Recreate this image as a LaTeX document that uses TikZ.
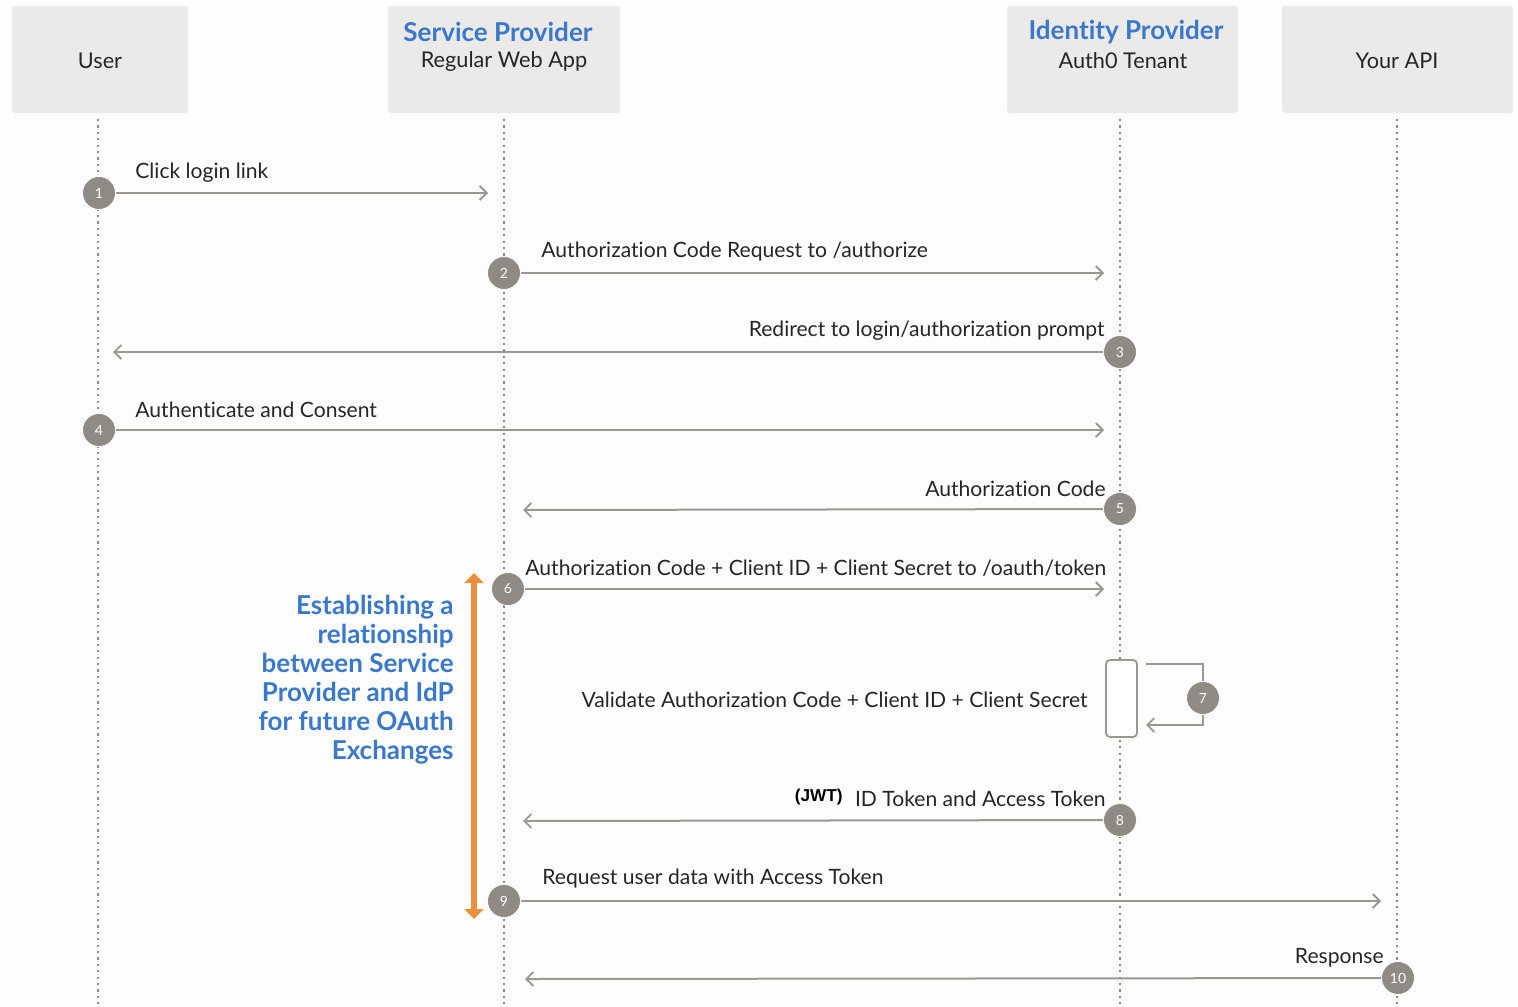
\documentclass[tikz,border=0pt]{standalone}
\usepackage{fontspec}
\setmainfont[Ligatures=NoCommon]{Lato}
\newfontfamily\arialfont{Liberation Sans}
\usetikzlibrary{arrows.meta,positioning}
\definecolor{boxfill}{HTML}{EBEAE9}
\definecolor{dotgray}{HTML}{8C8A86}
\definecolor{circfill}{HTML}{8F8B84}
\definecolor{linegray}{HTML}{9B9892}
\definecolor{hblue}{HTML}{3A78C9}
\definecolor{horange}{HTML}{E8903A}
\definecolor{txt}{HTML}{262626}
\definecolor{bg}{HTML}{FDFDFD}
\tikzset{
  actor/.style={fill=boxfill, rounded corners=1.5pt, draw=none, minimum width=#1, minimum height=53.5pt, inner sep=0pt},
  lifeline/.style={dotgray, line width=1pt, dash pattern=on 1.1pt off 2.1pt},
  stepnum/.style={circle, fill=circfill, draw=white, line width=0.4pt, minimum size=16.5pt, inner sep=0pt, text=white, font=\fontsize{7}{8}\selectfont},
  msg/.style={linegray, line width=1pt, -{Straight Barb[length=3.5pt,width=7pt,line width=0.9pt]}},
  lbl/.style={text=txt, font=\fontsize{10.55}{12}\selectfont, inner sep=0pt},
  hdr/.style={text=hblue, font=\fontsize{13}{15}\selectfont\bfseries, inner sep=0pt},
  sub/.style={text=txt, font=\fontsize{10.85}{12}\selectfont, inner sep=0pt},
}
\begin{document}
\begin{tikzpicture}[x=0.5pt,y=-0.5pt]
\useasboundingbox[fill=bg] (0,0) rectangle (1518,1006);
% actors
\node[actor=88pt] (user) at (100,59.5) {};
\node[actor=116pt] (sp) at (504,59.5) {};
\node[actor=115.5pt] (idp) at (1122.5,59.5) {};
\node[actor=115.5pt] (api) at (1397.5,59.5) {};
\node[sub] (userT) at (100,61) {User};
\node[hdr] (spT) at (498,32) {Service Provider};
\node[sub] (spS) at (504,61) {Regular Web App};
\node[hdr] (idpT) at (1126,32) {Identity Provider};
\node[sub] (idpS) at (1123,61) {Auth0 Tenant};
\node[sub] (apiT) at (1397,61) {Your API};
% lifelines
\coordinate (userB) at (98,1006);
\coordinate (spB) at (504,1006);
\coordinate (idpB) at (1120,1006);
\coordinate (apiB) at (1397,1006);
\draw[lifeline] (98,119) -- (userB);
\draw[lifeline] (504,119) -- (spB);
\draw[lifeline] (1120,119) -- (idpB);
\draw[lifeline] (1397,119) -- (apiB);
% activation box
\node[draw=linegray, line width=0.9pt, fill=white, rounded corners=2pt, minimum width=15.5pt, minimum height=38.5pt, inner sep=0pt] (act) at (1121.5,698.5) {};
% steps
\node[stepnum] (c1) at (99,193) {1};
\coordinate (e1) at (488,193);
\draw[msg] (c1) -- (e1);
\node[lbl, anchor=west] (l1) at (135,173) {Click login link};

\node[stepnum] (c2) at (504,273) {2};
\coordinate (e2) at (1104,273);
\draw[msg] (c2) -- (e2);
\node[lbl, anchor=west] (l2) at (541,252) {Authorization Code Request to /authorize};

\node[stepnum] (c3) at (1120,352) {3};
\coordinate (e3) at (113,352);
\draw[msg] (c3) -- (e3);
\node[lbl, anchor=east] (l3) at (1105,331) {Redirect to login/authorization prompt};

\node[stepnum] (c4) at (99,430) {4};
\coordinate (e4) at (1104,430);
\draw[msg] (c4) -- (e4);
\node[lbl, anchor=west] (l4) at (135,410) {Authenticate and Consent};

\node[stepnum] (c5) at (1120,509) {5};
\coordinate (e5) at (523,510);
\draw[msg] (c5) -- (e5);
\node[lbl, anchor=east] (l5) at (1106,489) {Authorization Code};

\node[stepnum] (c6) at (508,589) {6};
\coordinate (e6) at (1104,589);
\draw[msg] (c6) -- (e6);
\node[lbl, anchor=west] (l6) at (525,568) {Authorization Code + Client ID + Client Secret to /oauth/token};

\node[stepnum] (c7) at (1203,698) {7};
\coordinate (s7) at (1146,664);
\coordinate (e7) at (1146,725);
\draw[linegray, line width=1pt] (s7) -- (1203,664) -- (c7);
\draw[msg] (c7) -- (1203,725) -- (e7);
\node[lbl, anchor=east] (l7) at (1088,700) {Validate Authorization Code + Client ID + Client Secret};

\node[stepnum] (c8) at (1120,820) {8};
\coordinate (e8) at (523,821);
\draw[msg] (c8) -- (e8);
\node[lbl, anchor=east] (l8) at (1106,799) {ID Token and Access Token};
\node[text=black, font=\arialfont\bfseries\fontsize{8.6}{10}\selectfont, inner sep=0pt, anchor=east] (jwt) at (843,797) {(JWT)};

\node[stepnum] (c9) at (504,901) {9};
\coordinate (e9) at (1381,901);
\draw[msg] (c9) -- (e9);
\node[lbl, anchor=west] (l9) at (542,879) {Request user data with Access Token};

\node[stepnum] (c10) at (1398,978) {10};
\coordinate (e10) at (525,979);
\draw[msg] (c10) -- (e10);
\node[lbl, anchor=east] (l10) at (1384,958) {Response};

% orange double arrow
\coordinate (oTop) at (474,573);
\coordinate (oBot) at (474,919);
\draw[horange, line width=2.6pt, {Triangle[length=5pt,width=9.5pt]}-{Triangle[length=5pt,width=9.5pt]}] (oTop) -- (oBot);
\node[text=hblue, font=\fontsize{13}{14.5}\selectfont\bfseries, align=right, anchor=north east, inner sep=0pt] (note) at (454,595) {Establishing a\\relationship\\between Service\\Provider and IdP\\for future OAuth\\Exchanges};
\end{tikzpicture}
\end{document}
